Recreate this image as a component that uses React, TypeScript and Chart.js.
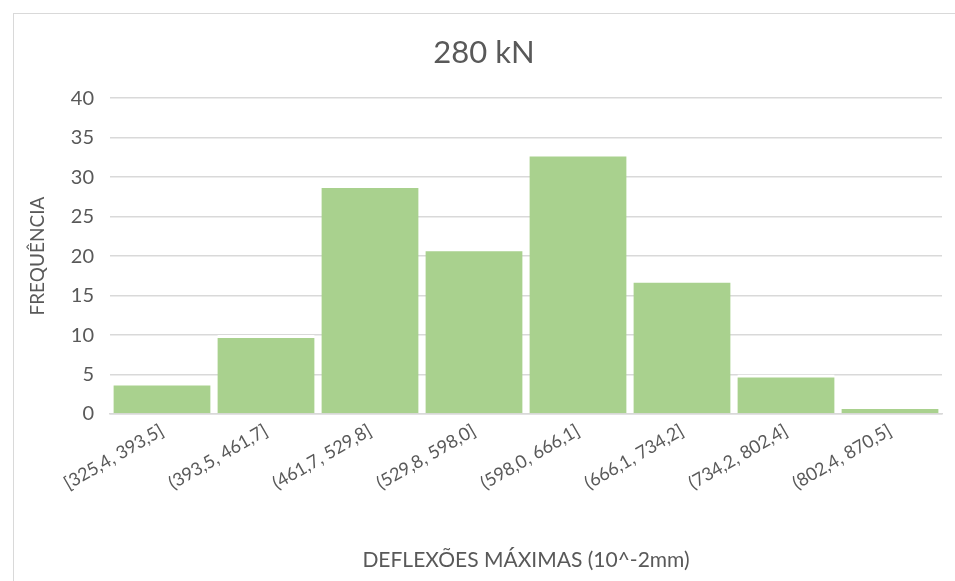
import React, { useEffect, useRef } from "react";
import { Chart, registerables } from "chart.js";

Chart.register(...registerables);

const categories = [
  "[325,4, 393,5]",
  "(393,5, 461,7]",
  "(461,7, 529,8]",
  "(529,8, 598,0]",
  "(598,0, 666,1]",
  "(666,1, 734,2]",
  "(734,2, 802,4]",
  "(802,4, 870,5]",
];
const frequencies = [4, 10, 29, 21, 33, 17, 5, 1];
const chartTitle = "280 kN";
const xTitle = "DEFLEXÕES MÁXIMAS (10^-2mm)";
const yTitle = "FREQUÊNCIA";

const FONT = "Lato, 'Open Sans', sans-serif";
const GRAY = "#595959";

const borderPlugin = {
  id: "outerBorder",
  beforeDraw(chart: any) {
    const ctx = chart.ctx;
    ctx.save();
    ctx.strokeStyle = "#d9d9d9";
    ctx.lineWidth = 1;
    ctx.strokeRect(13.5, 13.5, chart.width, chart.height);
    ctx.restore();
  },
};

export default function App() {
  const ref = useRef<HTMLCanvasElement | null>(null);
  useEffect(() => {
    document.body.style.margin = "0";
    const c = new Chart(ref.current!, {
      type: "bar",
      data: {
        labels: categories,
        datasets: [
          {
            data: frequencies,
            backgroundColor: "#A9D18E",
            borderColor: "#ffffff",
            borderWidth: { top: 3, left: 0, right: 0, bottom: 0 },
            borderSkipped: "bottom",
            categoryPercentage: 1,
            barPercentage: 0.935,
          },
        ],
      },
      options: {
        animation: false,
        responsive: false,
        layout: { padding: { left: 26, right: 13, top: 18, bottom: 4 } },
        plugins: {
          legend: { display: false },
          tooltip: { enabled: false },
          title: {
            display: true,
            text: chartTitle,
            color: GRAY,
            font: { family: FONT, size: 31, weight: "normal" },
            padding: { top: 16, bottom: 27 },
          },
        },
        scales: {
          x: {
            grid: { display: false, drawTicks: false },
            border: { color: "#d9d9d9", width: 1.5 },
            ticks: {
              color: GRAY,
              font: { family: FONT, size: 18 },
              minRotation: 30,
              maxRotation: 30,
              padding: 6,
            },
            title: {
              display: true,
              text: xTitle,
              color: GRAY,
              font: { family: FONT, size: 21 },
              padding: { top: 4, bottom: 4 },
            },
            afterFit: (s: any) => {
              s.height = 163;
            },
          },
          y: {
            min: 0,
            max: 40,
            ticks: {
              stepSize: 5,
              color: GRAY,
              font: { family: FONT, size: 20 },
              padding: 16,
            },
            grid: { color: "#d9d9d9", lineWidth: 1.5, drawTicks: false },
            border: { display: false },
            title: {
              display: true,
              text: yTitle,
              color: GRAY,
              font: { family: FONT, size: 19 },
              padding: { top: 0, bottom: 0 },
            },
            afterFit: (s: any) => {
              s.width = 84;
            },
          },
        },
      },
      plugins: [borderPlugin],
    });
    return () => c.destroy();
  }, []);
  return (
    <div style={{ position: "absolute", left: 0, top: 0, width: 955, height: 581 }}>
      <canvas ref={ref} width={955} height={581} style={{ width: 955, height: 581 }} />
    </div>
  );
}
